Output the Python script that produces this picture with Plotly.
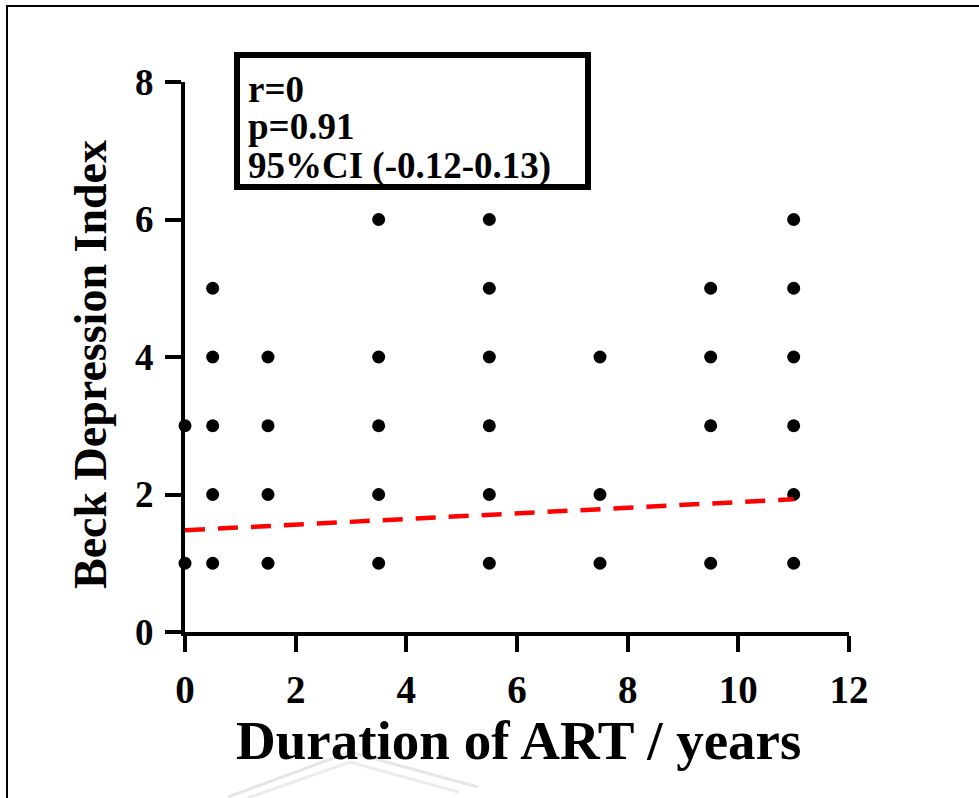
import plotly.graph_objects as go

# ---- data ----
duration_years = [0, 0,
                  0.5, 0.5, 0.5, 0.5, 0.5,
                  1.5, 1.5, 1.5, 1.5,
                  3.5, 3.5, 3.5, 3.5, 3.5,
                  5.5, 5.5, 5.5, 5.5, 5.5, 5.5,
                  7.5, 7.5, 7.5,
                  9.5, 9.5, 9.5, 9.5,
                  11, 11, 11, 11, 11, 11]
beck_index = [1, 3,
              1, 2, 3, 4, 5,
              1, 2, 3, 4,
              1, 2, 3, 4, 6,
              1, 2, 3, 4, 5, 6,
              1, 2, 4,
              1, 3, 4, 5,
              1, 2, 3, 4, 5, 6]
fit_x = [0, 11]
fit_y = [1.48, 1.93]
x_ticks = [0, 2, 4, 6, 8, 10, 12]
y_ticks = [0, 2, 4, 6, 8]
stats_lines = ["r=0", "p=0.91", "95%CI (-0.12-0.13)"]

W, H = 979, 798
L, R, T, B = 185, 130, 82, 166
pw, ph = W - L - R, H - T - B


def px(x):
    return (x - L) / pw


def py(y):
    return (H - B - y) / ph


FONT = "Liberation Serif"

fig = go.Figure()
fig.add_trace(go.Scatter(
    x=duration_years, y=beck_index, mode="markers",
    marker=dict(color="black", size=13, symbol="circle"),
    cliponaxis=False, showlegend=False))
fig.add_trace(go.Scatter(
    x=fit_x, y=fit_y, mode="lines",
    line=dict(color="#ff0000", width=4.5, dash="20px,13px"),
    cliponaxis=False, showlegend=False))

axis_common = dict(showline=True, linewidth=4, linecolor="black",
                   ticks="outside", tickwidth=4, ticklen=16, tickcolor="black",
                   showgrid=False, zeroline=False, ticklabelstandoff=4)
fig.update_xaxes(range=[0, 12], tickvals=x_ticks,
                 tickfont=dict(family=FONT, size=39, color="black", weight="bold"),
                 **axis_common)
fig.update_yaxes(range=[0, 8], tickvals=y_ticks,
                 tickfont=dict(family=FONT, size=37, color="black", weight="bold"),
                 **axis_common)

annotations = [
    dict(text="Beck Depression Index", x=px(90), y=py(365), xref="paper", yref="paper",
         xanchor="center", yanchor="middle", textangle=-90, showarrow=False,
         font=dict(family=FONT, size=46, color="black", weight="bold")),
    dict(text="Duration of ART / years", x=px(518), y=py(740), xref="paper", yref="paper",
         xanchor="center", yanchor="middle", showarrow=False,
         font=dict(family=FONT, size=55, color="black", weight="bold")),
]
for line, yc in zip(stats_lines, [90, 127, 166]):
    annotations.append(dict(text=line, x=px(246), y=py(yc), xref="paper", yref="paper",
                            xanchor="left", yanchor="middle", showarrow=False,
                            font=dict(family=FONT, size=37, color="black", weight="bold")))

shapes = [
    dict(type="rect", xref="paper", yref="paper", x0=px(237), x1=px(588),
         y0=py(187), y1=py(55), line=dict(color="black", width=6)),
    dict(type="rect", xref="paper", yref="paper", x0=px(7), x1=px(W + 20),
         y0=py(H + 20), y1=py(6), line=dict(color="black", width=2)),
    # faint watermark at the bottom
    dict(type="path", xref="paper", yref="paper",
         path=f"M {px(228)},{py(797)} L {px(350)},{py(752)} L {px(478)},{py(787)}",
         line=dict(color="#e6e6e6", width=3)),
    dict(type="path", xref="paper", yref="paper",
         path=f"M {px(248)},{py(798)} L {px(350)},{py(762)} L {px(458)},{py(792)}",
         line=dict(color="#ececec", width=3)),
]

fig.update_layout(width=W, height=H, margin=dict(l=L, r=R, t=T, b=B),
                  plot_bgcolor="white", paper_bgcolor="white",
                  annotations=annotations, shapes=shapes)
fig.write_html("out.html")
